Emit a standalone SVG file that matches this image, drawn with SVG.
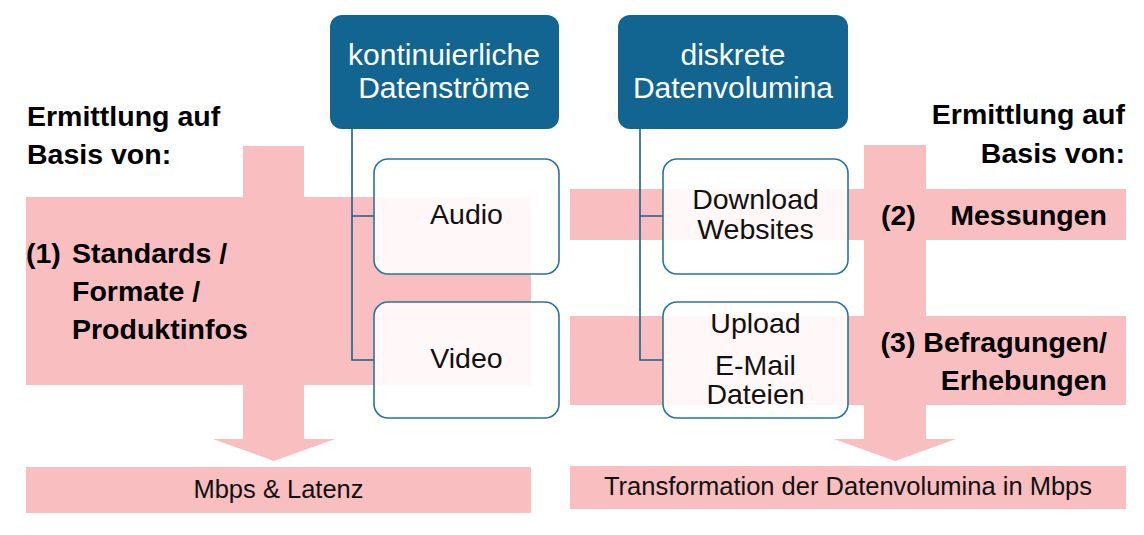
<svg xmlns="http://www.w3.org/2000/svg" width="1144" height="535" viewBox="0 0 1144 535">
<style>
.band{fill:#F8BEC0}
.hdr{fill:#136591}
.child{fill:#FFFFFF;fill-opacity:0.88;stroke:#2A73A0;stroke-width:1.6}
.conn{fill:none;stroke:#1B5F88;stroke-width:1.6}
.ht{font-family:"Liberation Sans",Arial,sans-serif;font-size:30px;fill:#FFFFFF;text-anchor:middle}
.ct{font-family:"Liberation Sans",Arial,sans-serif;font-size:28.5px;fill:#111111;text-anchor:middle}
.bt{font-family:"Liberation Sans",Arial,sans-serif;font-size:28.5px;font-weight:bold;fill:#000000}
.ft{font-family:"Liberation Sans",Arial,sans-serif;font-size:25.5px;fill:#111111;text-anchor:middle}
</style>
<rect width="1144" height="535" fill="#FFFFFF"/>
<g id="left-arrow">
<rect class="band" x="243" y="146" width="61" height="294"/>
<polygon class="band" points="213,439 335,439 274,461"/>
<rect class="band" x="26" y="197" width="505" height="188"/>
<rect class="band" x="26" y="467" width="505" height="46"/>
</g>
<g id="right-arrow">
<rect class="band" x="864" y="145" width="62" height="295"/>
<polygon class="band" points="834,439 956,439 895,461"/>
<rect class="band" x="570" y="189" width="556" height="51"/>
<rect class="band" x="570" y="316" width="556" height="89"/>
<rect class="band" x="570" y="466" width="556" height="43"/>
</g>
<g id="left-label">
<text class="bt" x="27" y="126">Ermittlung auf</text>
<text class="bt" x="27" y="164">Basis von:</text>
</g>
<g id="right-label">
<text class="bt" x="1125" y="124" text-anchor="end">Ermittlung auf</text>
<text class="bt" x="1125" y="163" text-anchor="end">Basis von:</text>
</g>
<g id="label-1">
<text class="bt" x="26" y="263">(1)</text>
<text class="bt" x="72" y="263">Standards /</text>
<text class="bt" x="72" y="301">Formate /</text>
<text class="bt" x="72" y="339">Produktinfos</text>
</g>
<g id="label-2">
<text class="bt" x="881" y="225">(2)</text>
<text class="bt" x="1107" y="225" text-anchor="end">Messungen</text>
</g>
<g id="label-3">
<text class="bt" x="1107" y="352" text-anchor="end">(3) Befragungen/</text>
<text class="bt" x="1107" y="390" text-anchor="end">Erhebungen</text>
</g>
<g id="connectors">
<path class="conn" d="M352,129 V360 H374 M352,216 H374"/>
<path class="conn" d="M640,129 V360 H663 M640,216 H663"/>
</g>
<g id="node-kontinuierlich">
<rect class="hdr" x="330" y="15" width="229" height="114" rx="12"/>
<text class="ht" x="444" y="65">kontinuierliche</text>
<text class="ht" x="444" y="98">Datenströme</text>
</g>
<g id="node-diskret">
<rect class="hdr" x="618" y="15" width="230" height="114" rx="12"/>
<text class="ht" x="733" y="65">diskrete</text>
<text class="ht" x="733" y="98">Datenvolumina</text>
</g>
<g id="node-audio">
<rect class="child" x="374" y="159" width="185" height="115" rx="14"/>
<text class="ct" x="466.5" y="224">Audio</text>
</g>
<g id="node-video">
<rect class="child" x="374" y="302" width="185" height="116" rx="14"/>
<text class="ct" x="466.5" y="368">Video</text>
</g>
<g id="node-download">
<rect class="child" x="663" y="159" width="185" height="115" rx="14"/>
<text class="ct" x="755.5" y="209">Download</text>
<text class="ct" x="755.5" y="239">Websites</text>
</g>
<g id="node-upload">
<rect class="child" x="663" y="302" width="185" height="116" rx="14"/>
<text class="ct" x="755.5" y="333">Upload</text>
<text class="ct" x="755.5" y="375">E-Mail</text>
<text class="ct" x="755.5" y="404">Dateien</text>
</g>
<g id="result-left">
<text class="ft" x="278.5" y="498">Mbps &amp; Latenz</text>
</g>
<g id="result-right">
<text class="ft" x="848" y="495">Transformation der Datenvolumina in Mbps</text>
</g>
</svg>
